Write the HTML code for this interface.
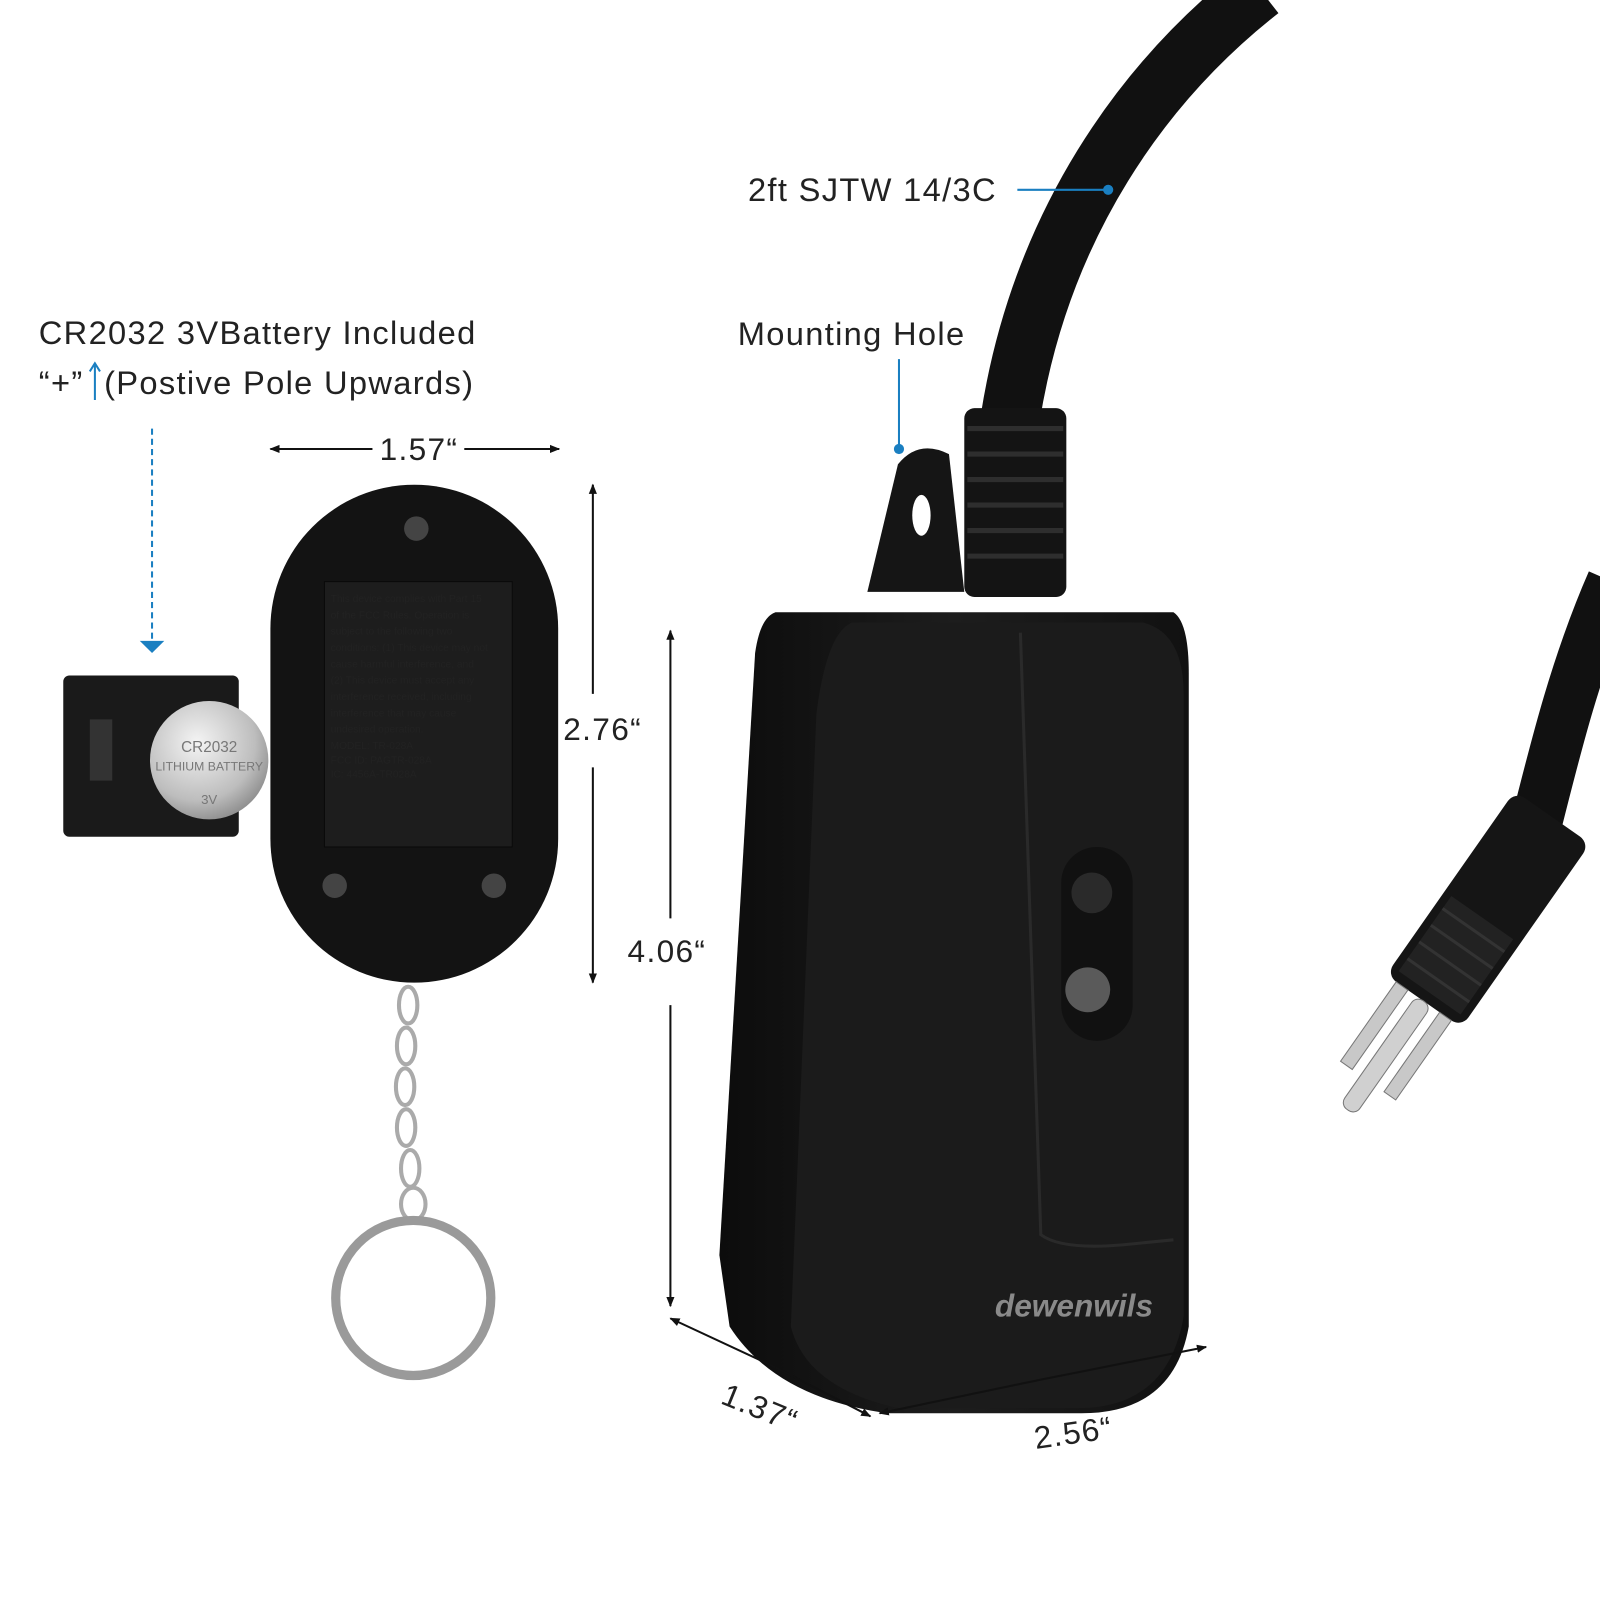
<!DOCTYPE html>
<html><head><meta charset="utf-8"><style>
html,body{margin:0;padding:0;background:#fff;}
svg{display:block}
text{font-family:"Liberation Sans",sans-serif;fill:#222}
.lb{letter-spacing:1.3px}
</style></head><body>
<svg width="1600" height="1600" viewBox="0 0 1568 1568" xmlns="http://www.w3.org/2000/svg">
<defs>
<marker id="ah" markerWidth="10" markerHeight="10" refX="9" refY="5" orient="auto" markerUnits="userSpaceOnUse"><path d="M0,1 L10,5 L0,9 z" fill="#111"/></marker>
<radialGradient id="coin" cx="40%" cy="35%" r="70%"><stop offset="0" stop-color="#f4f4f4"/><stop offset="0.7" stop-color="#bdbdbd"/><stop offset="1" stop-color="#8a8a8a"/></radialGradient>
<linearGradient id="body" x1="0" x2="1"><stop offset="0" stop-color="#0c0c0c"/><stop offset="0.5" stop-color="#1d1d1d"/><stop offset="1" stop-color="#111"/></linearGradient>
</defs>

<!-- cables -->
<path d="M1235,-10 C1120,80 1020,220 990,410" stroke="#111" stroke-width="58" fill="none"/>
<path d="M1580,570 C1545,650 1525,730 1505,810" stroke="#111" stroke-width="50" fill="none"/>
<!-- plug -->
<g transform="rotate(35 1460 880)">
<rect x="1420" y="780" width="90" height="220" rx="12" fill="#151515"/>
<rect x="1428" y="900" width="74" height="90" fill="#222"/>
<g stroke="#333" stroke-width="3"><line x1="1428" y1="915" x2="1502" y2="915"/><line x1="1428" y1="935" x2="1502" y2="935"/><line x1="1428" y1="955" x2="1502" y2="955"/><line x1="1428" y1="975" x2="1502" y2="975"/></g>
<rect x="1432" y="1000" width="14" height="95" fill="#c8c8c8" stroke="#777"/>
<rect x="1484" y="1000" width="14" height="95" fill="#c8c8c8" stroke="#777"/>
<rect x="1456" y="1000" width="18" height="130" rx="8" fill="#d0d0d0" stroke="#777"/>
</g>

<!-- strain relief -->
<rect x="945" y="400" width="100" height="185" rx="10" fill="#141414"/>
<g stroke="#2e2e2e" stroke-width="5">
<line x1="948" y1="420" x2="1042" y2="420"/><line x1="948" y1="445" x2="1042" y2="445"/><line x1="948" y1="470" x2="1042" y2="470"/><line x1="948" y1="495" x2="1042" y2="495"/><line x1="948" y1="520" x2="1042" y2="520"/><line x1="948" y1="545" x2="1042" y2="545"/></g>
<!-- mounting tab -->
<path d="M850,580 L880,455 Q900,430 930,445 L945,580 z" fill="#151515"/>
<ellipse cx="903" cy="505" rx="9" ry="20" fill="#fff"/>
<!-- main body -->
<path d="M760,600 L1150,600 Q1165,610 1165,660 L1165,1300 Q1150,1385 1060,1385 L870,1385 Q760,1370 715,1300 L705,1230 L740,640 Q745,605 760,600 z" fill="url(#body)"/>
<path d="M835,610 L1120,610 Q1160,620 1160,680 L1160,1290 Q1145,1378 1060,1380 L880,1380 Q790,1360 775,1300 L800,700 Q810,620 835,610 z" fill="#1b1b1b"/>
<path d="M1000,620 L1020,1210 Q1040,1225 1100,1220 L1150,1215" stroke="#2a2a2a" stroke-width="3" fill="none"/>
<rect x="1040" y="830" width="70" height="190" rx="35" fill="#111"/>
<circle cx="1070" cy="875" r="20" fill="#2a2a2a"/>
<circle cx="1066" cy="970" r="22" fill="#5a5a5a"/>
<text x="975" y="1290" font-size="31" font-weight="bold" font-style="italic" style="fill:#8a8a8a">dewenwils</text>

<!-- battery holder -->
<rect x="62" y="662" width="172" height="158" rx="6" fill="#1a1a1a"/>
<rect x="88" y="705" width="22" height="60" fill="#333"/>
<circle cx="205" cy="745" r="58" fill="url(#coin)"/>
<text x="205" y="737" font-size="15" text-anchor="middle" style="fill:#777">CR2032</text>
<text x="205" y="755" font-size="12" text-anchor="middle" style="fill:#777">LITHIUM BATTERY</text>
<text x="205" y="788" font-size="13" text-anchor="middle" style="fill:#777">3V</text>

<!-- remote -->
<rect x="265" y="475" width="282" height="488" rx="141" fill="#131313"/>
<rect x="318" y="570" width="184" height="260" fill="#1d1d1d" stroke="#0a0a0a"/>
<g font-size="10" style="fill:#3a3a3a">
<text x="324" y="590">This device complies with Part 15</text>
<text x="324" y="606">of the FCC Rules. Operation is</text>
<text x="324" y="622">subject to the following two</text>
<text x="324" y="638">conditions: (1) This device may not</text>
<text x="324" y="654">cause harmful interference, and</text>
<text x="324" y="670">(2) This device must accept any</text>
<text x="324" y="686">interference received, including</text>
<text x="324" y="702">interference that may cause</text>
<text x="324" y="718">undesired operation.</text>
<text x="324" y="734">MODEL: TR-028A</text>
<text x="324" y="748">FCC ID: PAGTR-028A</text>
<text x="324" y="762">IC: 4456A-TR028A</text>
</g>
<circle cx="408" cy="518" r="12" fill="#444"/><circle cx="328" cy="868" r="12" fill="#444"/><circle cx="484" cy="868" r="12" fill="#444"/>
<!-- chain -->
<g fill="none" stroke="#aaa" stroke-width="4">
<ellipse cx="400" cy="985" rx="9" ry="18"/><ellipse cx="398" cy="1025" rx="9" ry="18"/><ellipse cx="397" cy="1065" rx="9" ry="18"/><ellipse cx="398" cy="1105" rx="9" ry="18"/><ellipse cx="402" cy="1145" rx="9" ry="18"/><ellipse cx="405" cy="1180" rx="12" ry="16"/>
</g>
<circle cx="405" cy="1272" r="76" fill="none" stroke="#9a9a9a" stroke-width="9"/>

<!-- labels -->
<text class="lb" x="38" y="337" font-size="32">CR2032 3VBattery Included</text>
<text class="lb" x="38" y="386" font-size="32">“+”</text>
<line x1="93" y1="392" x2="93" y2="358" stroke="#1a7fc1" stroke-width="2"/>
<path d="M88,364 L93,356 L98,364" fill="none" stroke="#1a7fc1" stroke-width="2"/>
<text class="lb" x="102" y="386" font-size="32">(Postive Pole Upwards)</text>
<line x1="149" y1="420" x2="149" y2="628" stroke="#1a7fc1" stroke-width="2" stroke-dasharray="6,4"/>
<path d="M137,628 L161,628 L149,640 z" fill="#1a7fc1"/>

<text class="lb" x="733" y="197" font-size="32">2ft SJTW 14/3C</text>
<line x1="997" y1="186" x2="1085" y2="186" stroke="#1a7fc1" stroke-width="2"/>
<circle cx="1086" cy="186" r="5" fill="#1a7fc1"/>
<text class="lb" x="723" y="338" font-size="32">Mounting Hole</text>
<line x1="881" y1="352" x2="881" y2="440" stroke="#1a7fc1" stroke-width="2"/>
<circle cx="881" cy="440" r="5" fill="#1a7fc1"/>

<!-- dimensions -->
<g stroke="#111" stroke-width="2">
<line x1="365" y1="440" x2="265" y2="440" marker-end="url(#ah)"/>
<line x1="455" y1="440" x2="548" y2="440" marker-end="url(#ah)"/>
<line x1="581" y1="680" x2="581" y2="475" marker-end="url(#ah)"/>
<line x1="581" y1="752" x2="581" y2="963" marker-end="url(#ah)"/>
<line x1="657" y1="900" x2="657" y2="618" marker-end="url(#ah)"/>
<line x1="657" y1="985" x2="657" y2="1280" marker-end="url(#ah)"/>
<line x1="760" y1="1340" x2="657" y2="1292" marker-end="url(#ah)"/>
<line x1="760" y1="1340" x2="853" y2="1388" marker-end="url(#ah)"/>
<line x1="1020" y1="1352" x2="862" y2="1385" marker-end="url(#ah)"/>
<line x1="1020" y1="1352" x2="1182" y2="1320" marker-end="url(#ah)"/>
</g>
<text class="lb" x="372" y="451" font-size="31">1.57“</text>
<text class="lb" x="552" y="725" font-size="31">2.76“</text>
<text class="lb" x="615" y="943" font-size="31">4.06“</text>
<text class="lb" x="705" y="1375" font-size="31" transform="rotate(22 705 1375)">1.37“</text>
<text class="lb" x="1015" y="1420" font-size="31" transform="rotate(-8 1015 1420)">2.56“</text>
</svg>
</body></html>
